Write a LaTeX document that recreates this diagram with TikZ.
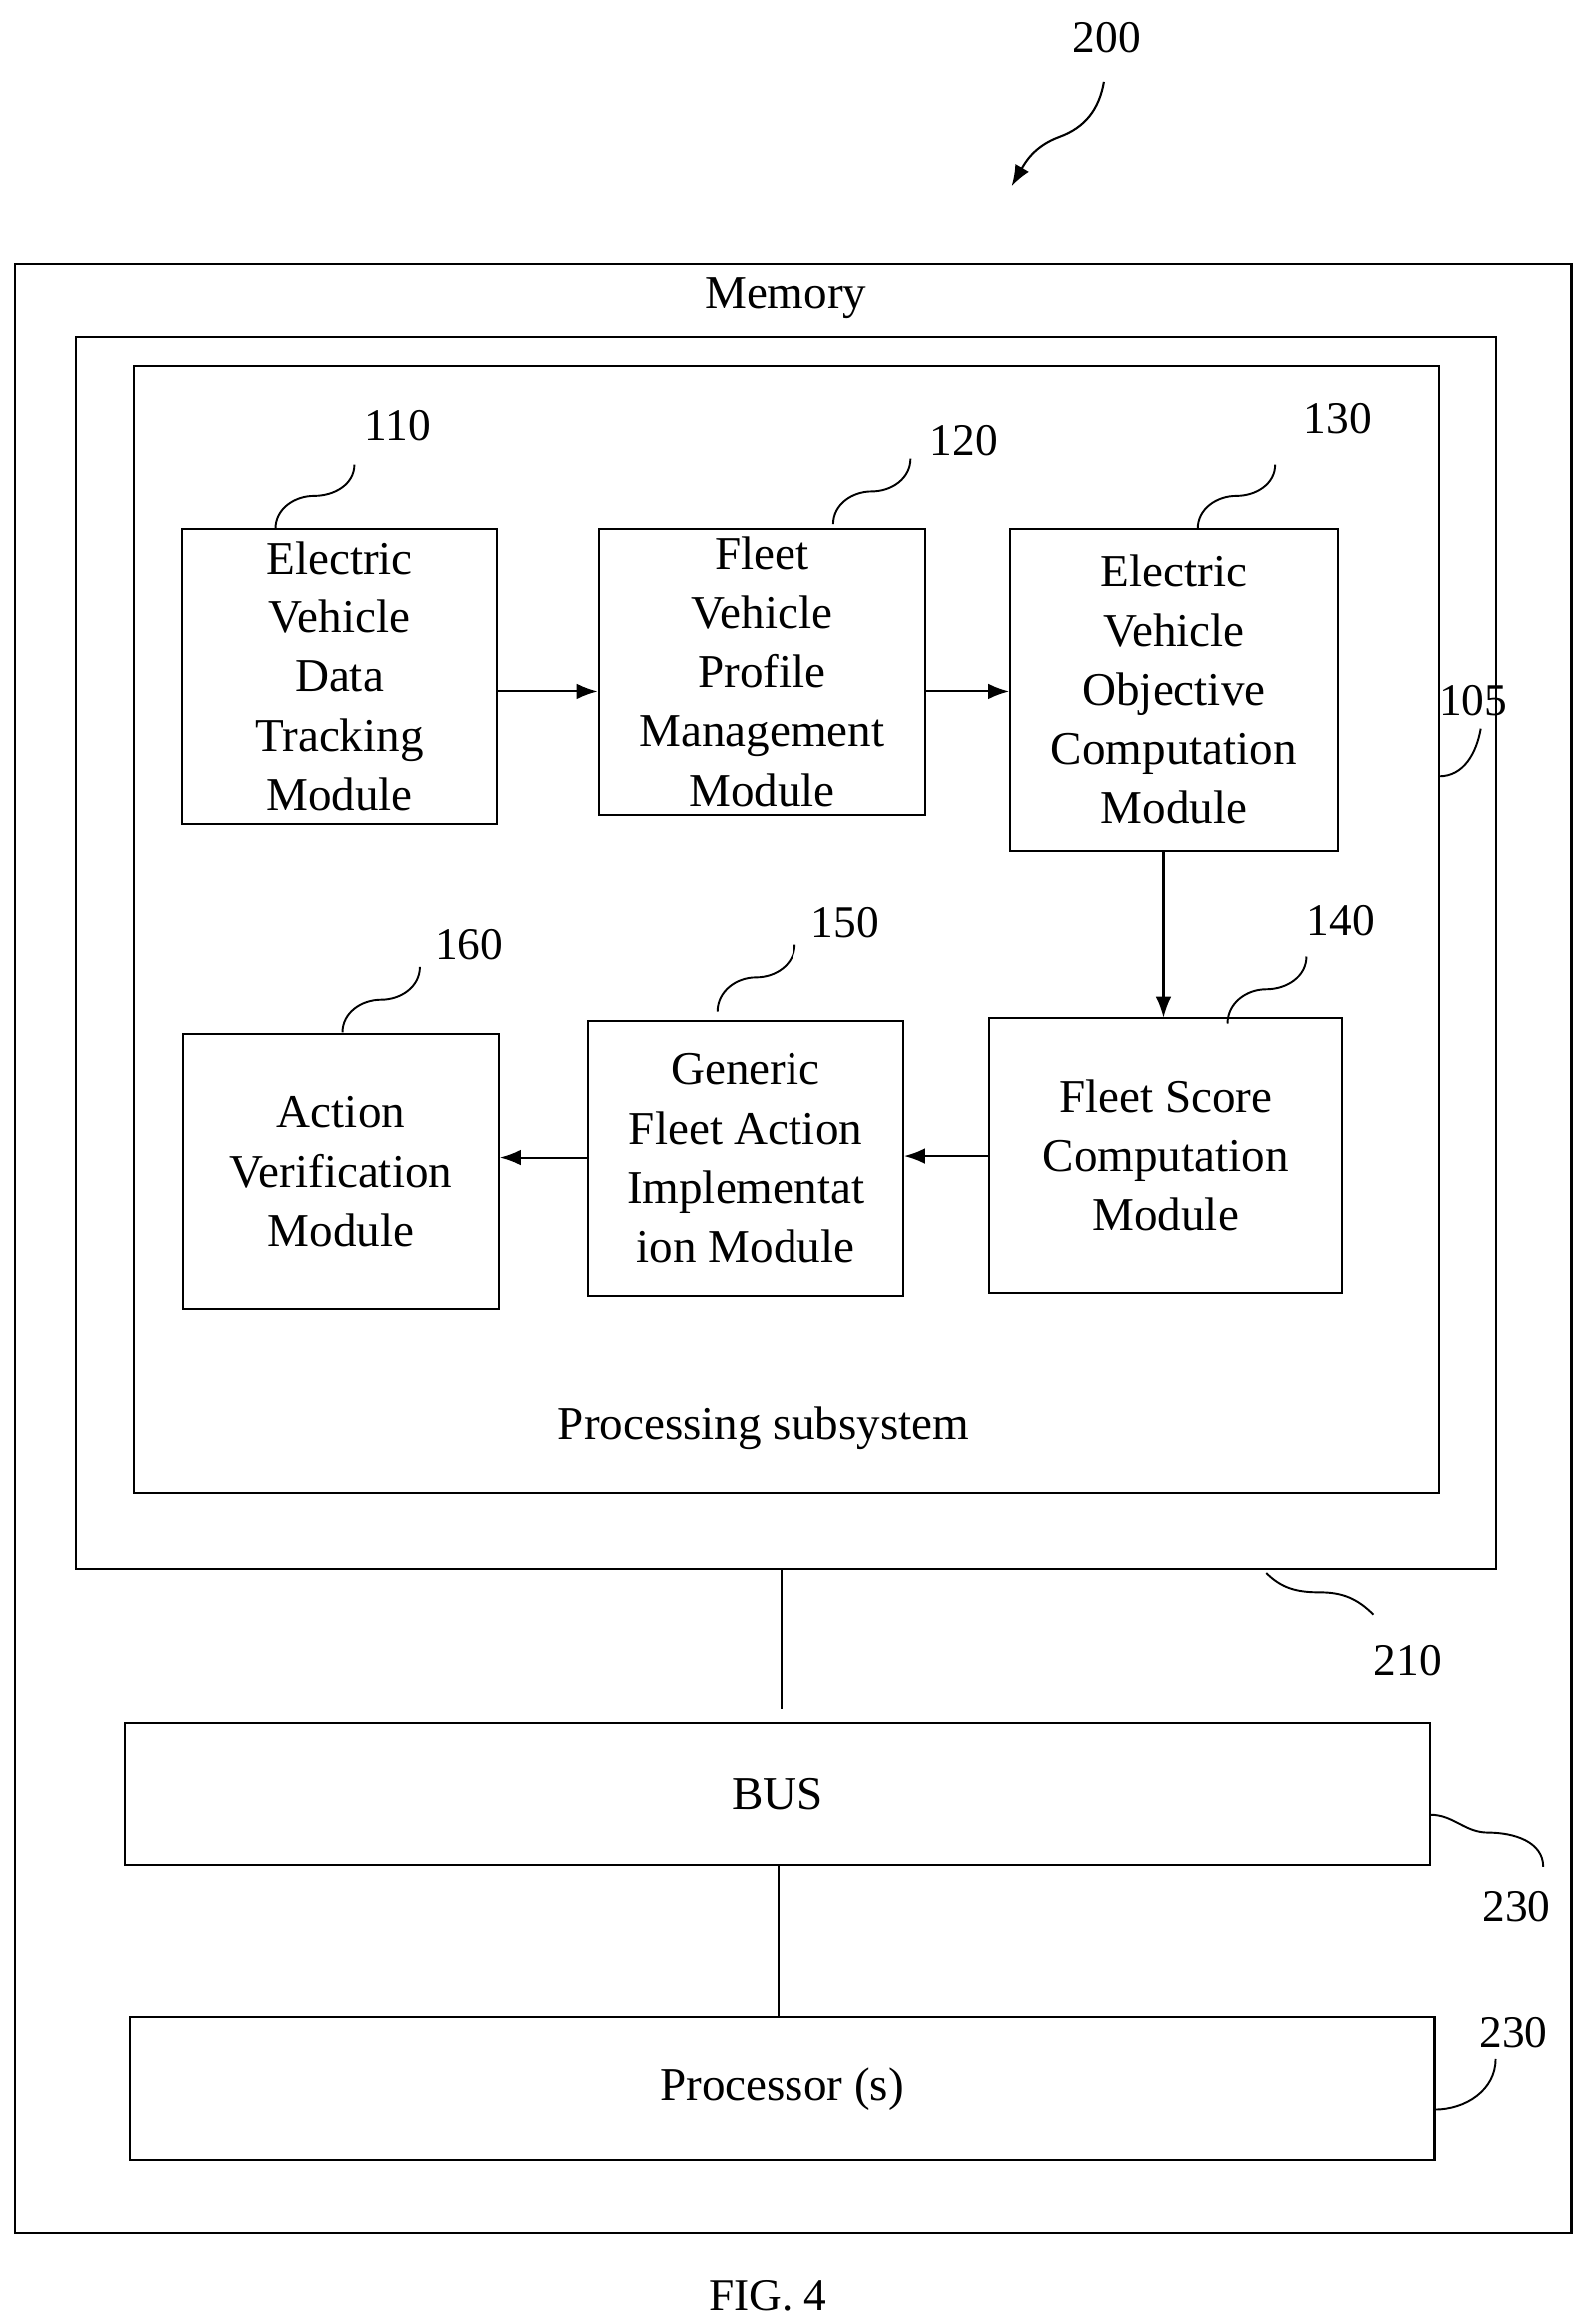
\documentclass[tikz,border=0pt]{standalone}
\usepackage{fontspec}
\setmainfont{Liberation Serif}
\usetikzlibrary{arrows.meta}
\begin{document}
\begin{tikzpicture}[x=0.03cm,y=-0.03cm,line width=1.2pt,
 box/.style={draw,inner sep=0pt,align=center,font=\fontsize{27}{34}\selectfont},
 lbl/.style={font=\fontsize{26}{30}\selectfont},
 arr/.style={-{Latex[length=12pt,width=9pt]}},
 sq/.style={line width=1.1pt}]
\useasboundingbox (0,0) rectangle (1066,1562);
\node[lbl] (n200) at (744,25) {200};
\coordinate (s200) at (742,55);
\coordinate (e200) at (680,125);
\draw[arr] (s200) to[out=-100,in=20] (712,92) to[out=200,in=60] (e200);
\node[draw,minimum width=1046*0.03cm,minimum height=1324*0.03cm,inner sep=0] (outer) at (533,839) {};
\node[lbl,font=\fontsize{27}{30}\selectfont] (mem) at (528,200) {Memory};
\node[draw,minimum width=954*0.03cm,minimum height=828*0.03cm,inner sep=0] (memb) at (528,640) {};
\node[draw,minimum width=877*0.03cm,minimum height=757*0.03cm,inner sep=0] (proc) at (528.5,624.5) {};
\node[lbl,font=\fontsize{27}{30}\selectfont] (procl) at (513,960) {Processing subsystem};
\node[box,minimum width=212*0.03cm,minimum height=199*0.03cm] (b110) at (228,454.5) {Electric\\Vehicle\\Data\\Tracking\\Module};
\node[box,minimum width=220*0.03cm,minimum height=193*0.03cm] (b120) at (512,451.5) {Fleet\\Vehicle\\Profile\\Management\\Module};
\node[box,minimum width=220*0.03cm,minimum height=217*0.03cm] (b130) at (789,463.5) {Electric\\Vehicle\\Objective\\Computation\\Module};
\node[box,minimum width=237*0.03cm,minimum height=185*0.03cm] (b140) at (783.5,776.5) {Fleet Score\\Computation\\Module};
\node[box,minimum width=212*0.03cm,minimum height=185*0.03cm] (b150) at (501,778.5) {Generic\\Fleet Action\\Implementat\\ion Module};
\node[box,minimum width=212*0.03cm,minimum height=185*0.03cm] (b160) at (229,787.5) {Action\\Verification\\Module};
\draw[arr] (b110.east|-0,465) -- (b120.west|-0,465);
\draw[arr] (b120.east|-0,465) -- (b130.west|-0,465);
\draw[arr] (782,572) -- (782,684);
\draw[arr] (b140.west|-0,777) -- (b150.east|-0,777);
\draw[arr] (b150.west|-0,778) -- (b160.east|-0,778);
% labels with squiggles
\node[lbl] (l110) at (267,286) {110};
\draw[sq] (185,355) to[out=90,in=180] (211,333) to[out=0,in=-90] (238,312);
\node[lbl] (l120) at (648,296) {120};
\draw[sq] (560,352) to[out=90,in=180] (586,330) to[out=0,in=-90] (612,308);
\node[lbl] (l130) at (899,281) {130};
\draw[sq] (805,355) to[out=90,in=180] (831,333) to[out=0,in=-90] (857,312);
\node[lbl] (l140) at (901,619) {140};
\draw[sq] (825,688) to[out=90,in=180] (851,665) to[out=0,in=-90] (878,643);
\node[lbl] (l150) at (568,620) {150};
\draw[sq] (482,680) to[out=90,in=180] (508,657) to[out=0,in=-90] (534,635);
\node[lbl] (l160) at (315,635) {160};
\draw[sq] (230,694) to[out=90,in=180] (256,672) to[out=0,in=-90] (282,650);
\node[lbl] (l105) at (990,471) {105};
\draw[sq] (967,522) to[out=0,in=-100] (995,490);
\node[lbl] (l210) at (946,1116) {210};
\draw[sq] (851,1057) to[out=-45,in=180] (887,1070) to[out=0,in=135] (923,1085);
\node[box,minimum width=877*0.03cm,minimum height=96*0.03cm] (bus) at (522.5,1206) {BUS};
\node[box,minimum width=877*0.03cm,minimum height=96*0.03cm] (cpu) at (525.5,1404) {Processor (s)};
\draw (525,1054) -- (525,1148);
\draw (bus.south-|523,0) -- (cpu.north-|523,0);
\node[lbl] (l230a) at (1019,1282) {230};
\draw[sq] (961,1220) to[out=0,in=180] (1000,1232) to[out=0,in=90] (1037,1255);
\node[lbl] (l230b) at (1017,1366) {230};
\draw[sq] (964,1418) to[out=0,in=-90] (1005,1384);
\node[lbl] (fig) at (516,1543) {FIG. 4};
\end{tikzpicture}
\end{document}
